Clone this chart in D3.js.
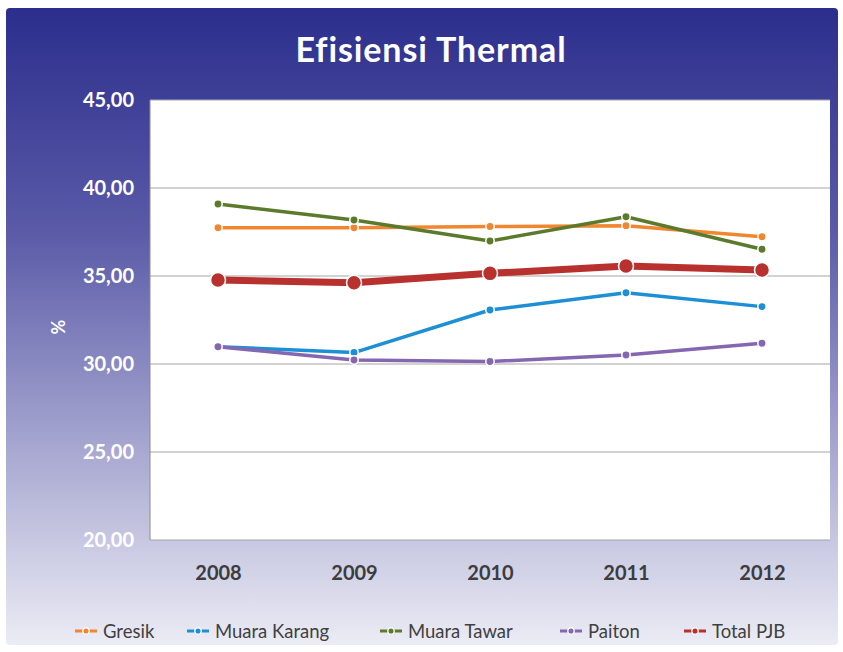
<!DOCTYPE html>
<html><head><meta charset="utf-8">
<script src="https://cdn.jsdelivr.net/npm/d3@7"></script>
<style>body{margin:0;background:#fff;font-family:Lato,"Open Sans",sans-serif}</style>
</head><body><svg id="c" width="843" height="652"></svg>
<script>
const years = ["2008","2009","2010","2011","2012"];
const gresik = [37.74, 37.74, 37.81, 37.86, 37.23];
const muaraKarang = [30.98, 30.65, 33.07, 34.05, 33.26];
const muaraTawar = [39.09, 38.18, 36.99, 38.37, 36.52];
const paiton = [30.98, 30.23, 30.14, 30.51, 31.18];
const totalPJB = [34.77, 34.62, 35.15, 35.57, 35.34];
const yTicks = [20, 25, 30, 35, 40, 45];
const seriesNames = ["Gresik","Muara Karang","Muara Tawar","Paiton","Total PJB"];

const series = [
  {name:seriesNames[0], values:gresik, color:"#f0862f", w:3.5, r:4.2},
  {name:seriesNames[1], values:muaraKarang, color:"#1e8fd5", w:3.5, r:4.2},
  {name:seriesNames[2], values:muaraTawar, color:"#5c7a2c", w:3.5, r:4.2},
  {name:seriesNames[3], values:paiton, color:"#8467b0", w:3.5, r:4.2},
  {name:seriesNames[4], values:totalPJB, color:"#b8312f", w:7, r:7.5}
];

const svg = d3.select("#c");
const defs = svg.append("defs");
const g = defs.append("linearGradient").attr("id","bg").attr("x1",0).attr("y1",0).attr("x2",0).attr("y2",1);
g.append("stop").attr("offset","0%").attr("stop-color","#2b2e8c");
g.append("stop").attr("offset","35%").attr("stop-color","#5a5aa8");
g.append("stop").attr("offset","70%").attr("stop-color","#a9a9d2");
g.append("stop").attr("offset","100%").attr("stop-color","#ececf5");

svg.append("rect").attr("x",6).attr("y",8).attr("width",832).attr("height",637).attr("rx",4).attr("fill","url(#bg)");

const m = {l:150, r:830, t:100, b:540};
const x = d3.scalePoint().domain(years).range([m.l, m.r]).padding(0.5);
const y = d3.scaleLinear().domain([20,45]).range([m.b, m.t]);

svg.append("rect").attr("x",m.l).attr("y",m.t).attr("width",m.r-m.l).attr("height",m.b-m.t).attr("fill","#fff");

// gridlines
svg.append("g").selectAll("line").data(yTicks).join("line")
  .attr("x1",m.l).attr("x2",m.r).attr("y1",d=>y(d)).attr("y2",d=>y(d))
  .attr("stroke","#a6a6a6").attr("stroke-width",1.2);
svg.append("line").attr("x1",m.l).attr("x2",m.l).attr("y1",m.t).attr("y2",m.b).attr("stroke","#8c8c8c").attr("stroke-width",1);

// y axis
const yAxis = d3.axisLeft(y).tickValues(yTicks).tickFormat(d=>d3.format(".2f")(d).replace(".",",")).tickSize(0).tickPadding(16);
const ya = svg.append("g").attr("transform",`translate(${m.l},0)`).call(yAxis);
ya.select(".domain").remove();
ya.selectAll("text").attr("fill","#fff").attr("font-size",20).attr("font-weight",700).attr("font-family","Lato");

// x axis
const xAxis = d3.axisBottom(x).tickSize(0).tickPadding(26);
const xa = svg.append("g").attr("transform",`translate(0,${m.b})`).call(xAxis);
xa.select(".domain").remove();
xa.selectAll("text").attr("fill","#3c3c3c").attr("font-size",20).attr("font-weight",700).attr("font-family","Lato");

// y label
svg.append("text").attr("transform","translate(65,327) rotate(-90)").attr("text-anchor","middle")
  .attr("fill","#fff").attr("font-size",18).attr("font-weight",700).text("%");

// title
svg.append("text").attr("x",431).attr("y",62).attr("text-anchor","middle").attr("fill","#fff")
  .attr("font-size",34).attr("font-weight",700).attr("letter-spacing",0.9).attr("font-family","Lato").text("Efisiensi Thermal");

// lines
const line = d3.line().x((d,i)=>x(years[i])).y(d=>y(d));
series.forEach(s=>{
  svg.append("path").datum(s.values).attr("d",line).attr("fill","none")
    .attr("stroke",s.color).attr("stroke-width",s.w).attr("stroke-linejoin","round");
  svg.append("g").selectAll("circle").data(s.values).join("circle")
    .attr("cx",(d,i)=>x(years[i])).attr("cy",d=>y(d)).attr("r",s.r)
    .attr("fill",s.color).attr("stroke","#fff").attr("stroke-width",1.5);
});

// legend
const legX = [75, 187, 380, 560, 684];
const lg = svg.append("g");
series.forEach((s,i)=>{
  const gx = legX[i], gy = 631;
  lg.append("line").attr("x1",gx).attr("x2",gx+22).attr("y1",gy).attr("y2",gy).attr("stroke",s.color).attr("stroke-width",3);
  lg.append("circle").attr("cx",gx+11).attr("cy",gy).attr("r",3.2).attr("fill",s.color).attr("stroke","#fff").attr("stroke-width",1.3);
  lg.append("text").attr("x",gx+28).attr("y",gy+6.5).attr("fill","#404040").attr("font-size",18.5).attr("font-family","Lato").text(s.name);
});
</script></body></html>
